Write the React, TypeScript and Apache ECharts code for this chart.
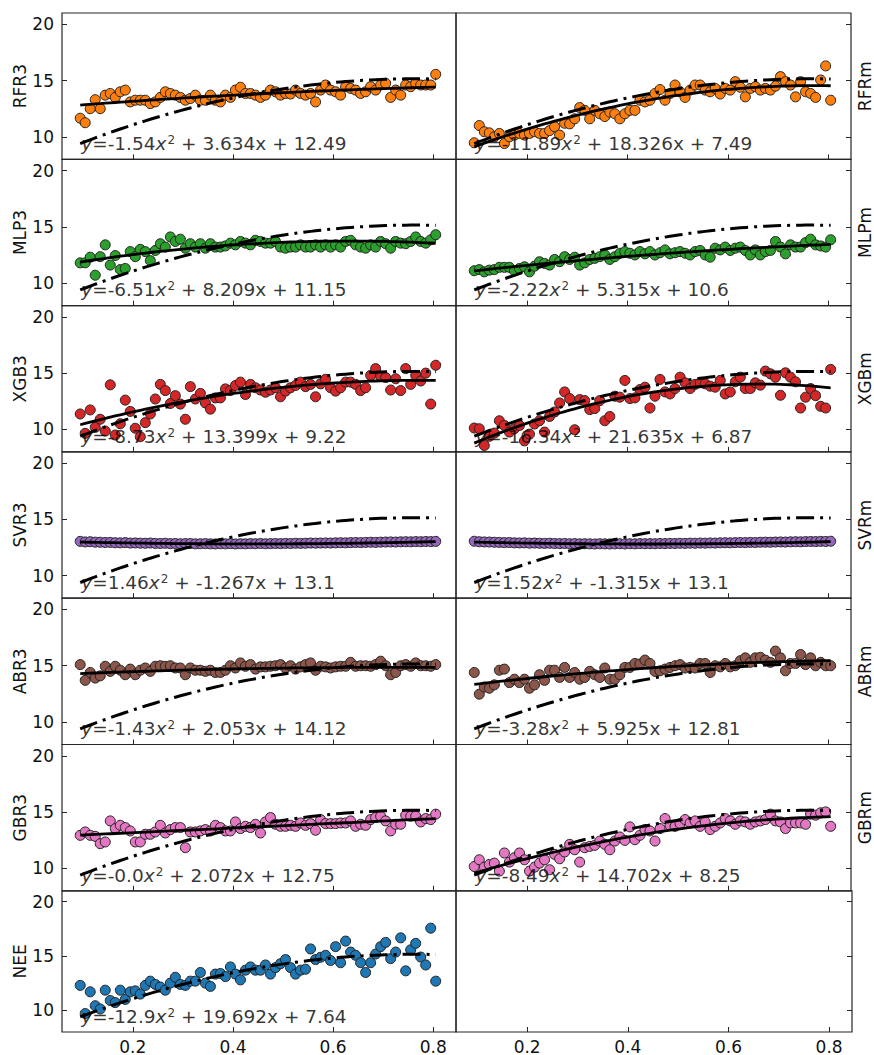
import React, { useEffect, useRef } from "react";
import * as echarts from "echarts";

// shared x values (ranked fraction)
const X = [
  0.095, 0.105, 0.115, 0.125, 0.135, 0.145, 0.155, 0.165, 0.175, 0.185, 0.195, 0.205,
  0.215, 0.225, 0.235, 0.245, 0.255, 0.265, 0.275, 0.285, 0.295, 0.305, 0.315, 0.325,
  0.335, 0.345, 0.355, 0.365, 0.375, 0.385, 0.395, 0.405, 0.415, 0.425, 0.435, 0.445,
  0.455, 0.465, 0.475, 0.485, 0.495, 0.505, 0.515, 0.525, 0.535, 0.545, 0.555, 0.565,
  0.575, 0.585, 0.595, 0.605, 0.615, 0.625, 0.635, 0.645, 0.655, 0.665, 0.675, 0.685,
  0.695, 0.705, 0.715, 0.725, 0.735, 0.745, 0.755, 0.765, 0.775, 0.785, 0.795, 0.805,
];

const RFR3 = [
  11.65, 11.25, 12.5, 13.3, 12.5, 13.7, 13.85, 13.5, 14.0, 14.15, 13.1, 13.25,
  13.25, 13.25, 12.95, 13.1, 13.5, 14.0, 13.85, 13.7, 13.5, 13.25, 13.4, 13.7,
  13.25, 13.25, 13.7, 13.25, 13.1, 13.7, 13.5, 14.15, 14.4, 13.85, 13.85, 13.7,
  13.5, 13.7, 14.15, 14.0, 13.7, 13.85, 13.8, 14.15, 13.85, 13.7, 13.85, 13.1,
  14.15, 14.6, 14.15, 14.0, 13.7, 14.45, 14.3, 14.15, 13.85, 14.0, 14.45, 14.15,
  14.6, 14.75, 13.5, 14.15, 13.7, 14.6, 14.45, 14.75, 14.6, 14.6, 14.6, 15.55,
];
const RFRm = [
  9.47, 11.0, 10.45, 10.35, 10.0, 10.3, 9.4, 10.0, 10.15, 10.3, 10.15, 10.3,
  10.45, 10.3, 10.3, 10.55, 10.9, 10.15, 11.2, 11.15, 11.6, 12.6, 12.35, 11.6,
  12.35, 12.05, 11.8, 12.2, 12.05, 11.6, 12.05, 12.35, 12.35, 13.25, 13.1, 13.25,
  13.85, 14.2, 13.25, 13.85, 14.6, 14.0, 13.5, 14.15, 14.6, 14.6, 14.15, 14.0,
  14.3, 13.8, 14.3, 14.15, 14.9, 14.4, 13.55, 14.3, 14.45, 14.15, 14.3, 14.15,
  14.5, 15.35, 14.9, 14.6, 13.55, 14.9, 14.0, 13.85, 13.5, 15.05, 16.3, 13.25,
];
const MLP3 = [
  11.8, 11.8, 12.3, 10.7, 12.35, 13.4, 11.6, 12.45, 11.2, 11.3, 12.8, 12.35,
  13.0, 12.8, 12.0, 12.9, 13.5, 13.2, 14.1, 13.7, 13.9, 13.1, 13.5, 13.2,
  13.5, 13.1, 13.5, 13.2, 13.2, 13.3, 13.55, 13.4, 13.7, 13.55, 13.4, 13.8,
  13.7, 13.55, 13.55, 13.7, 13.2, 13.1, 13.2, 13.2, 13.4, 13.2, 13.2, 13.4,
  13.2, 13.4, 13.2, 13.4, 13.2, 13.7, 13.8, 13.4, 13.2, 13.1, 13.4, 13.2,
  13.7, 13.5, 13.1, 13.7, 13.55, 13.5, 13.7, 14.1, 13.7, 13.55, 13.85, 14.3,
];
const MLPm = [
  11.1, 11.2, 11.0, 11.15, 11.2, 11.4, 11.4, 11.4, 11.1, 11.3, 11.45, 11.0,
  11.5, 11.9, 11.75, 11.6, 12.1, 11.9, 12.35, 12.1, 12.3, 11.6, 11.8, 12.1,
  12.2, 12.35, 12.5, 12.1, 12.35, 12.65, 12.8, 12.65, 12.5, 12.8, 12.6, 12.8,
  12.5, 12.7, 12.95, 12.6, 12.7, 12.8, 12.65, 12.5, 12.8, 12.9, 12.5, 12.3,
  13.1, 12.95, 13.2, 12.9, 13.1, 13.2, 12.9, 12.5, 12.95, 12.5, 12.8, 12.9,
  13.7, 13.2, 12.6, 13.4, 13.2, 13.2, 13.6, 13.9, 13.4, 13.3, 13.2, 13.85,
];
const XGB3 = [
  11.37, 9.65, 11.73, 10.18, 10.9, 9.85, 13.96, 9.5, 10.5, 12.6, 11.6, 10.1,
  9.35, 10.6, 11.37, 12.7, 14.0, 13.45, 12.3, 13.0, 12.25, 10.9, 13.8, 12.7,
  13.2, 12.35, 11.8, 12.8, 12.8, 13.6, 13.45, 13.9, 14.2, 13.1, 14.0, 13.7,
  13.5, 13.3, 13.5, 13.7, 12.9, 13.4, 13.7, 13.9, 14.2, 13.8, 14.0, 12.9,
  14.05, 14.45, 13.7, 13.4, 13.7, 14.2, 14.2, 14.0, 13.45, 13.7, 14.8, 15.4,
  14.7, 14.6, 13.5, 14.5, 13.45, 15.4, 14.0, 14.8, 14.3, 15.0, 12.25, 15.7,
];
const XGBm = [
  10.12, 10.06, 8.57, 9.38, 9.67, 10.77, 10.35, 9.76, 10.06, 10.35, 8.98, 9.58,
  10.48, 10.77, 9.76, 11.15, 11.55, 12.35, 13.33, 12.74, 9.97, 12.65, 12.56, 11.76,
  11.85, 12.56, 10.77, 11.15, 12.95, 12.86, 14.35, 12.74, 12.8, 13.54, 13.75, 11.9,
  12.95, 14.44, 13.33, 13.15, 13.63, 14.64, 14.14, 13.63, 14.0, 14.14, 14.05, 13.84,
  13.75, 14.35, 13.15, 13.33, 14.23, 14.64, 13.63, 13.63, 14.14, 13.93, 15.18, 14.94,
  14.64, 13.03, 15.03, 14.64, 14.23, 11.9, 12.86, 13.63, 13.0, 12.05, 11.9, 15.33,
];
const SVR3 = [
  13.05, 13.0, 13.02, 12.98, 12.97, 12.95, 12.96, 12.93, 12.92, 12.94, 12.9, 12.91,
  12.89, 12.88, 12.9, 12.87, 12.86, 12.88, 12.85, 12.86, 12.84, 12.85, 12.86, 12.83,
  12.84, 12.85, 12.83, 12.82, 12.84, 12.83, 12.85, 12.82, 12.84, 12.83, 12.85, 12.84,
  12.86, 12.84, 12.85, 12.86, 12.85, 12.87, 12.86, 12.88, 12.87, 12.88, 12.9, 12.89,
  12.9, 12.91, 12.9, 12.92, 12.93, 12.92, 12.94, 12.95, 12.94, 12.96, 12.97, 12.96,
  12.98, 12.99, 13.0, 12.99, 13.01, 13.02, 13.01, 13.03, 13.02, 13.04, 13.03, 13.05,
];
const SVRm = [
  13.06, 13.02, 13.0, 12.99, 12.97, 12.96, 12.94, 12.95, 12.92, 12.91, 12.92, 12.89,
  12.9, 12.88, 12.87, 12.88, 12.86, 12.85, 12.86, 12.84, 12.85, 12.83, 12.84, 12.83,
  12.82, 12.84, 12.83, 12.82, 12.83, 12.84, 12.82, 12.84, 12.83, 12.85, 12.84, 12.85,
  12.84, 12.86, 12.85, 12.87, 12.86, 12.88, 12.87, 12.89, 12.88, 12.9, 12.89, 12.91,
  12.9, 12.92, 12.93, 12.92, 12.94, 12.95, 12.94, 12.96, 12.95, 12.97, 12.98, 12.97,
  12.99, 13.0, 12.99, 13.01, 13.02, 13.01, 13.03, 13.04, 13.03, 13.05, 13.04, 13.06,
];
const ABR3 = [
  15.1, 13.7, 14.4, 13.9, 14.1, 14.95, 14.5, 14.95, 14.6, 14.2, 14.7, 14.2,
  14.6, 14.8, 14.5, 14.95, 15.0, 14.95, 15.0, 14.8, 14.8, 14.2, 14.8, 14.6,
  14.6, 14.5, 14.6, 14.4, 14.4, 14.6, 15.0, 14.8, 15.25, 14.95, 15.1, 14.7,
  14.9, 14.9, 14.95, 15.0, 15.1, 14.8, 15.0, 14.7, 14.9, 15.1, 15.25, 14.6,
  14.95, 14.9, 14.8, 14.9, 14.95, 14.95, 15.3, 14.95, 15.0, 15.0, 14.95, 15.1,
  15.4, 15.0, 14.2, 14.4, 15.0, 15.1, 14.95, 15.25, 15.0, 15.0, 14.95, 15.1,
];
const ABRm = [
  14.4, 12.47, 13.1, 13.0, 13.3, 14.6, 14.7, 13.5, 13.8, 13.5, 13.8, 13.0,
  13.3, 14.2, 13.7, 14.6, 14.6, 13.96, 14.85, 13.96, 14.4, 13.8, 13.96, 14.5,
  14.2, 13.96, 14.8, 13.8, 13.8, 14.2, 14.85, 14.85, 15.2, 15.15, 15.5, 15.2,
  14.5, 14.55, 14.7, 14.85, 15.0, 15.1, 14.8, 14.85, 14.8, 15.2, 15.2, 14.4,
  15.0, 14.9, 15.2, 14.9, 15.0, 15.45, 15.7, 15.3, 15.7, 15.75, 15.5, 15.3,
  16.3, 15.7, 14.55, 15.2, 15.2, 16.0, 15.1, 15.7, 15.0, 15.3, 15.0, 15.0,
];
const GBR3 = [
  12.93, 13.23, 12.93, 12.84, 12.19, 12.34, 14.21, 13.53, 13.82, 13.62, 13.32, 12.34,
  12.34, 13.02, 13.02, 13.23, 13.82, 13.14, 13.44, 13.62, 13.62, 11.83, 13.23, 13.23,
  13.32, 13.44, 13.32, 13.82, 13.62, 13.32, 13.32, 14.12, 13.53, 13.73, 13.62, 13.91,
  13.14, 14.12, 14.51, 13.91, 13.73, 13.73, 13.82, 13.73, 14.03, 13.82, 13.97, 13.38,
  14.33, 13.97, 13.97, 13.97, 14.03, 14.03, 14.21, 13.73, 13.91, 13.82, 14.33, 14.51,
  14.63, 14.21, 13.32, 13.91, 13.91, 14.72, 14.63, 14.63, 14.12, 14.42, 14.33, 14.81,
];
const GBRm = [
  10.16, 10.76, 10.1, 10.34, 10.46, 9.75, 11.36, 10.55, 10.94, 11.36, 10.76, 9.75,
  10.1, 10.46, 10.76, 9.87, 11.24, 10.85, 11.45, 12.13, 11.65, 10.55, 11.83, 11.95,
  12.04, 12.42, 12.13, 11.65, 12.42, 12.78, 12.48, 13.68, 12.54, 12.93, 13.44, 13.32,
  12.42, 13.53, 14.42, 13.82, 13.73, 13.97, 14.33, 14.03, 14.21, 13.73, 14.12, 13.44,
  13.73, 14.03, 14.42, 14.21, 13.91, 14.21, 14.12, 13.91, 14.12, 14.21, 14.33, 14.81,
  14.21, 14.12, 13.53, 14.03, 14.03, 14.03, 13.91, 14.81, 14.72, 14.93, 15.01, 13.73,
];
const NEE = [
  12.29, 9.7, 11.7, 10.42, 10.12, 11.85, 10.9, 10.71, 11.85, 11.0, 11.7, 11.79,
  11.49, 12.29, 12.68, 12.38, 12.14, 11.85, 12.5, 13.04, 12.38, 12.29, 12.68, 12.68,
  13.48, 12.5, 12.2, 13.33, 13.39, 13.1, 13.99, 13.33, 12.8, 13.69, 13.99, 13.69,
  13.69, 14.17, 13.33, 13.93, 14.29, 14.67, 13.93, 13.33, 13.69, 13.78, 15.65, 14.67,
  14.88, 15.06, 14.58, 15.86, 14.38, 16.37, 15.36, 15.06, 14.38, 13.48, 14.38, 15.18,
  15.86, 16.25, 14.76, 15.36, 16.67, 13.63, 15.57, 16.16, 14.9, 14.17, 17.56, 12.68,
];

// panel names (left column, right column)
const LEFT_NAMES = ["RFR3", "MLP3", "XGB3", "SVR3", "ABR3", "GBR3", "NEE"];
const RIGHT_NAMES = ["RFRm", "MLPm", "XGBm", "SVRm", "ABRm", "GBRm"];
const LEFT_VALUES = [RFR3, MLP3, XGB3, SVR3, ABR3, GBR3, NEE];
const RIGHT_VALUES = [RFRm, MLPm, XGBm, SVRm, ABRm, GBRm];
const LEFT_COLORS = ["#ff7f0e", "#2ca02c", "#d62728", "#9467bd", "#8c564b", "#e377c2", "#1f77b4"];
const RIGHT_COLORS = ["#ff7f0e", "#2ca02c", "#d62728", "#9467bd", "#8c564b", "#e377c2"];

// quadratic fit coefficients as printed (a, b, c)
const LEFT_FITS = [
  ["-1.54", "3.634", "12.49"],
  ["-6.51", "8.209", "11.15"],
  ["-8.73", "13.399", "9.22"],
  ["1.46", "-1.267", "13.1"],
  ["-1.43", "2.053", "14.12"],
  ["-0.0", "2.072", "12.75"],
  ["-12.9", "19.692", "7.64"],
];
const RIGHT_FITS = [
  ["-11.89", "18.326", "7.49"],
  ["-2.22", "5.315", "10.6"],
  ["-16.34", "21.635", "6.87"],
  ["1.52", "-1.315", "13.1"],
  ["-3.28", "5.925", "12.81"],
  ["-8.49", "14.702", "8.25"],
];
const NEE_FIT = ["-12.9", "19.692", "7.64"];

const X_TICKS = [0.2, 0.4, 0.6, 0.8];
const Y_TICKS = [10, 15, 20];

const FONT = "DejaVu Sans";
const TXT = "#000";

function curve(fit: string[]) {
  const a = parseFloat(fit[0]);
  const b = parseFloat(fit[1]);
  const c = parseFloat(fit[2]);
  return X.map((x) => [x, a * x * x + b * x + c]);
}

function buildOption() {
  const grids: any[] = [];
  const xAxes: any[] = [];
  const yAxes: any[] = [];
  const series: any[] = [];
  const rowH = 146.3;
  for (let c = 0; c < 2; c++) {
    for (let r = 0; r < 7; r++) {
      const g = grids.length;
      grids.push({
        left: c === 0 ? 62 : 456,
        width: c === 0 ? 394 : 396,
        top: 13 + r * rowH,
        height: rowH,
        show: true,
        borderColor: "#262626",
        borderWidth: 1.2,
        backgroundColor: "transparent",
      });
      xAxes.push({
        type: "value",
        gridIndex: g,
        min: 0.0586,
        max: 0.8455,
        axisLine: { show: false },
        splitLine: { show: false },
        axisTick: {
          show: true,
          inside: true,
          length: 5,
          customValues: X_TICKS,
          lineStyle: { color: "#262626", width: 1 },
        },
        axisLabel: {
          show: r === 6,
          customValues: X_TICKS,
          formatter: (v: number) => v.toFixed(1),
          fontSize: 17,
          fontFamily: FONT,
          color: "#111",
          margin: 6,
        },
      });
      const name = c === 0 ? LEFT_NAMES[r] : RIGHT_NAMES[r] || "";
      yAxes.push({
        type: "value",
        gridIndex: g,
        min: 8,
        max: 21,
        position: c === 0 ? "left" : "right",
        name,
        nameLocation: "middle",
        nameRotate: 90,
        nameGap: c === 0 ? 34 : 5,
        nameTextStyle: { fontSize: 17, fontFamily: FONT, color: "#111" },
        axisLine: { show: false },
        splitLine: { show: false },
        axisTick: {
          show: true,
          inside: true,
          length: 5,
          customValues: Y_TICKS,
          lineStyle: { color: "#262626", width: 1 },
        },
        axisLabel: {
          show: c === 0,
          customValues: Y_TICKS,
          fontSize: 17,
          fontFamily: FONT,
          color: "#111",
          margin: 8,
        },
      });
      const vals = c === 0 ? LEFT_VALUES[r] : RIGHT_VALUES[r];
      if (!vals) continue;
      const color = c === 0 ? LEFT_COLORS[r] : RIGHT_COLORS[r];
      const fit = c === 0 ? LEFT_FITS[r] : RIGHT_FITS[r];
      const isNEE = c === 0 && r === 6;
      series.push({
        type: "scatter",
        xAxisIndex: g,
        yAxisIndex: g,
        data: X.map((x, i) => [x, vals[i]]),
        symbolSize: 10,
        itemStyle: { color, borderColor: "#222", borderWidth: 1, opacity: 1 },
        z: 2,
        silent: true,
      });
      if (!isNEE) {
        series.push({
          type: "line",
          xAxisIndex: g,
          yAxisIndex: g,
          data: curve(fit),
          showSymbol: false,
          symbol: "none",
          lineStyle: { color: "#000", width: 2.8 },
          z: 3,
          silent: true,
        });
      }
      series.push({
        type: "line",
        xAxisIndex: g,
        yAxisIndex: g,
        data: curve(NEE_FIT),
        showSymbol: false,
        symbol: "none",
        lineStyle: { color: "#000", width: 3, type: [18, 6, 3, 6], cap: "butt" },
        z: 4,
        silent: true,
      });
      series.push({
        type: "scatter",
        xAxisIndex: g,
        yAxisIndex: g,
        data: [[0.097, 9.4]],
        symbolSize: 0,
        silent: true,
        z: 6,
        label: {
          show: true,
          position: "right",
          distance: 0,
          formatter: `{i|y}=${fit[0]}{i|x}{s|2} + ${fit[1]}x + ${fit[2]}`,
          fontSize: 18.5,
          fontFamily: FONT,
          color: TXT,
          rich: {
            i: { fontSize: 18.5, fontStyle: "italic", fontFamily: FONT, color: TXT },
            s: { fontSize: 12, verticalAlign: "top", fontFamily: FONT, color: TXT, padding: [0, 0, 6, 1] },
          },
        },
      });
    }
  }
  return {
    animation: false,
    textStyle: { fontFamily: FONT },
    grid: grids,
    xAxis: xAxes,
    yAxis: yAxes,
    series,
  };
}

export default function App() {
  const ref = useRef<HTMLDivElement>(null);
  useEffect(() => {
    if (!ref.current) return;
    const chart = echarts.init(ref.current, null, { renderer: "svg" });
    chart.setOption(buildOption());
    return () => chart.dispose();
  }, []);
  return (
    <div
      ref={ref}
      style={{ position: "absolute", left: 0, top: 0, width: 874, height: 1055, background: "#fff" }}
    />
  );
}
